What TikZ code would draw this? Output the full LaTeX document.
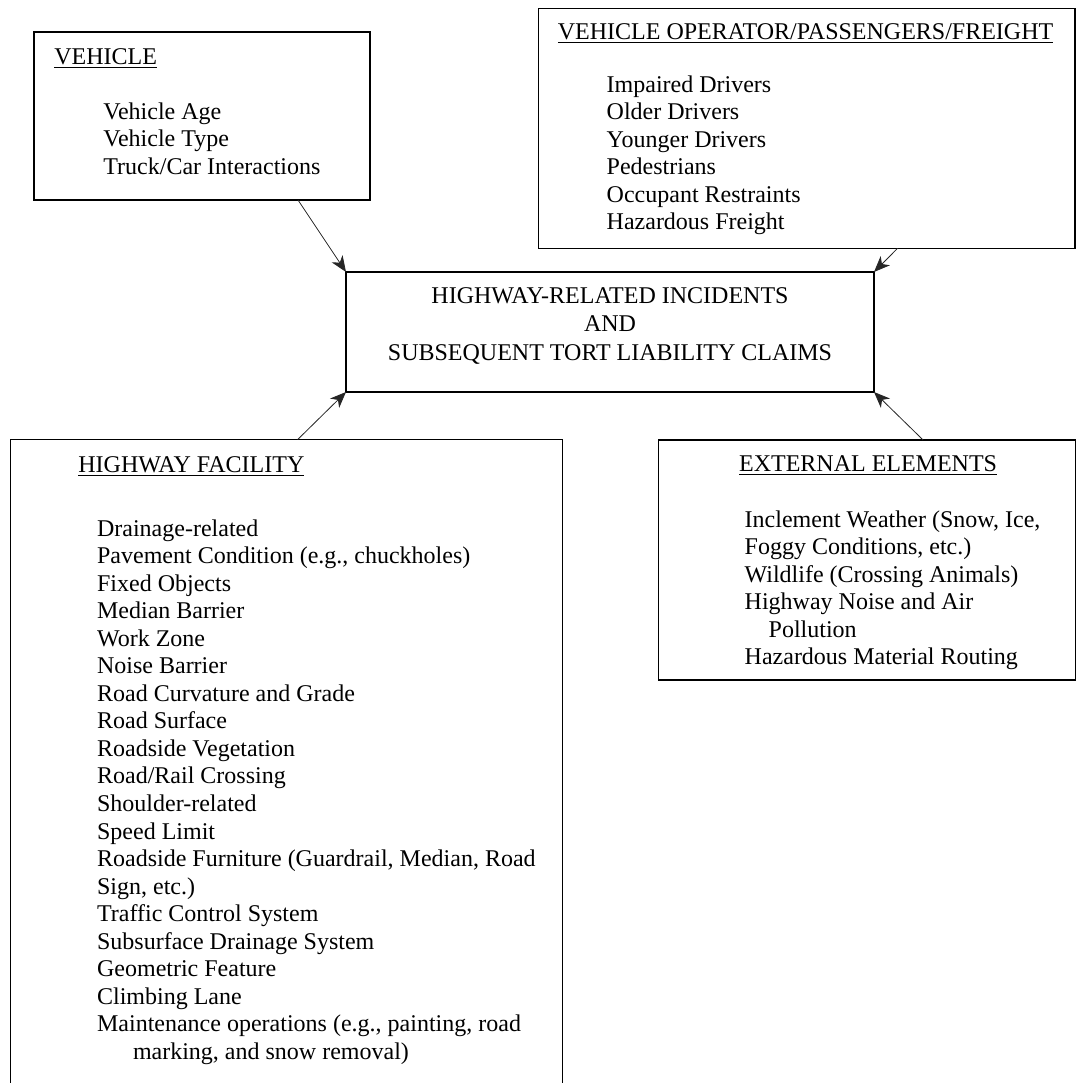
\documentclass[tikz,border=0pt]{standalone}
\usepackage{fontspec}
\setmainfont{Liberation Serif}
\usetikzlibrary{arrows.meta,fit}
\begin{document}
\begin{tikzpicture}[x=0.5pt,y=-0.5pt,
  box/.style={draw=black, line width=0.55pt, inner sep=0pt, outer sep=0pt},
  txt/.style={anchor=base west, inner sep=0pt, font=\fontsize{12}{14}\selectfont},
  ctxt/.style={anchor=base, inner sep=0pt, font=\fontsize{12}{14}\selectfont},
  arr/.style={draw=black!85, line width=0.4pt,
    -{Stealth[length=8pt,width=6.5pt,inset=2.4pt]}}]
\useasboundingbox (0,0) rectangle (1079,1083);
\clip (0,0) rectangle (1079,1083);

% frames
\node[box, fit={(34,32) (370,200)}] (veh) {};
\node[box, fit={(538.4,8.3) (1075,248.3)}] (vop) {};
\node[box, fit={(346,272) (874,392)}] (ctr) {};
\node[box, fit={(10.7,439.5) (562.3,1110)}] (hf) {};
\node[box, fit={(658.3,440) (1075.5,680)}] (ext) {};

% vehicle
\node[txt] (vehT) at (54,64) {\underline{VEHICLE}};
\foreach \t [count=\i from 0] in {Vehicle Age, Vehicle Type, Truck/Car Interactions}
  \node[txt] (veh-\i) at (103,{119+27.5*\i}) {\t};

% operator / passengers / freight
\node[txt] (vopT) at (557.5,39.5) {\underline{VEHICLE OPERATOR/PASSENGERS/FREIGHT}};
\foreach \t [count=\i from 0] in {Impaired Drivers, Older Drivers, Younger Drivers,
    Pedestrians, Occupant Restraints, Hazardous Freight}
  \node[txt] (vop-\i) at (606.3,{92+27.5*\i}) {\t};

% central box
\node[ctxt] (ctr-1) at (610,303.5) {HIGHWAY-RELATED INCIDENTS};
\node[ctxt] (ctr-2) at (610,331.7) {AND};
\node[ctxt] (ctr-3) at (610,360) {SUBSEQUENT TORT LIABILITY CLAIMS};

% highway facility
\node[txt] (hfT) at (78,472.7) {\underline{HIGHWAY FACILITY}};
\foreach \t [count=\i from 0] in {Drainage-related, {Pavement Condition (e.g., chuckholes)},
    Fixed Objects, Median Barrier, Work Zone, Noise Barrier, Road Curvature and Grade,
    Road Surface, Roadside Vegetation, Road/Rail Crossing, Shoulder-related, Speed Limit,
    {Roadside Furniture (Guardrail, Median, Road}, {Sign, etc.)}, Traffic Control System,
    Subsurface Drainage System, Geometric Feature, Climbing Lane,
    {Maintenance operations (e.g., painting, road}}
  \node[txt] (hf-\i) at (96.7,{536+27.55*\i}) {\t};
\node[txt] (hf-19) at (132.6,{536+27.55*19}) {marking, and snow removal)};

% external elements
\node[txt] (extT) at (738.7,471.7) {\underline{EXTERNAL ELEMENTS}};
\node[txt] (ext-0) at (744.3,527) {Inclement Weather (Snow, Ice,};
\node[txt] (ext-1) at (744.3,554.5) {Foggy Conditions, etc.)};
\node[txt] (ext-2) at (744.3,582) {Wildlife (Crossing Animals)};
\node[txt] (ext-3) at (744.3,609.5) {Highway Noise and Air};
\node[txt] (ext-4) at (768.3,637) {Pollution};
\node[txt] (ext-5) at (744.3,664.5) {Hazardous Material Routing};

% influences on the central box
\draw[arr] ([xshift=132pt]veh.south west) -- (ctr.north west);
\draw[arr] ([xshift=179.6pt]vop.south west) -- (ctr.north east);
\draw[arr] ([xshift=143.5pt]hf.north west) -- (ctr.south west);
\draw[arr] ([xshift=132.4pt]ext.north west) -- (ctr.south east);
\end{tikzpicture}
\end{document}
